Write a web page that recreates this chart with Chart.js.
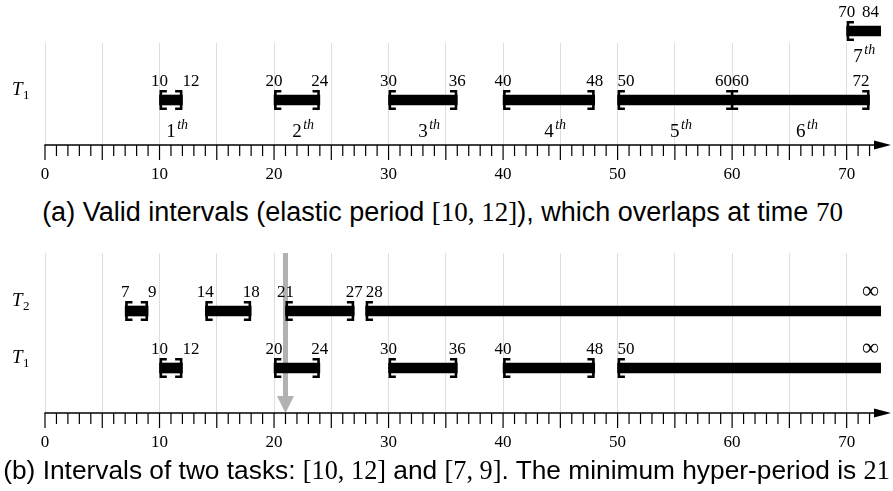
<!DOCTYPE html>
<html>
<head>
<meta charset="utf-8">
<script src="https://cdn.jsdelivr.net/npm/chart.js@4/dist/chart.umd.min.js"></script>
<style>
  html, body { margin: 0; padding: 0; background: #fff; }
  #page { position: relative; width: 893px; height: 491px; overflow: hidden; }
  .plot { position: absolute; left: 0; width: 893px; }
  #plotA { top: 0; height: 190px; }
  #plotB { top: 240px; height: 218px; }
  .cap { position: absolute; left: 0; width: 893px; text-align: center; white-space: nowrap;
         font-family: 'Liberation Sans', Arial, sans-serif; line-height: 30px; color: #000; }
  .cap .m { font-family: 'Liberation Serif', serif; }
</style>
</head>
<body>
<div id="page">
  <div class="plot" id="plotA"><canvas id="chartA"></canvas></div>
  <div class="cap" style="top:197px;left:-4px;font-size:27px">(a) Valid intervals (elastic period <span class="m">[10, 12]</span>), which overlaps at time <span class="m">70</span></div>
  <div class="plot" id="plotB"><canvas id="chartB"></canvas></div>
  <div class="cap" style="top:455px;font-size:26.3px">(b) Intervals of two tasks: <span class="m">[10, 12]</span> and <span class="m">[7, 9]</span>. The minimum hyper-period is <span class="m">21</span></div>
</div>
<script>
// Time axis
const X_MAX = 73;
const AXIS_LABEL_STEP = 10;

// (a) successive valid intervals of T1 with elastic period [10, 12]
const T1_ELASTIC = [[10, 12], [20, 24], [30, 36], [40, 48], [50, 60], [60, 72]];
const T1_ELASTIC_ORDINALS = ['1', '2', '3', '4', '5', '6'];
const T1_OVERLAP = [[70, 84]];
const T1_OVERLAP_ORDINALS = ['7'];

// (b) valid intervals of two tasks, open-ended after they merge
const T1_INTERVALS = [[10, 12], [20, 24], [30, 36], [40, 48], [50, Infinity]];
const T2_INTERVALS = [[7, 9], [14, 18], [21, 27], [28, Infinity]];
const HYPER_PERIOD = 21;

const SERIF = '"Liberation Serif", "DejaVu Serif", serif';

function fmt(v) { return isFinite(v) ? String(v) : '\u221E'; }

function drawBracket(ctx, px, yc, dir) {
  // dir = +1 draws "[", dir = -1 draws "]", dir = 0 draws a joint "I"
  const h = 10, sw = 2.6, serif = 6;
  ctx.lineWidth = sw;
  ctx.lineCap = 'butt';
  ctx.lineJoin = 'miter';
  const xs = px + dir * sw / 2;
  const yt = yc - h + sw / 2, yb = yc + h - sw / 2;
  ctx.beginPath();
  if (dir === 0) {
    ctx.moveTo(xs - serif, yt); ctx.lineTo(xs + serif, yt);
    ctx.moveTo(xs - serif, yb); ctx.lineTo(xs + serif, yb);
    ctx.moveTo(xs, yt); ctx.lineTo(xs, yb);
  } else {
    ctx.moveTo(xs + dir * serif, yt); ctx.lineTo(xs, yt);
    ctx.lineTo(xs, yb); ctx.lineTo(xs + dir * serif, yb);
  }
  ctx.stroke();
}

const intervalPlugin = {
  id: 'intervals',
  beforeDatasetsDraw(chart, args, opts) {
    if (opts.marker == null) return;
    const { ctx, chartArea } = chart;
    const px = chart.scales.x.getPixelForValue(opts.marker);
    const head = 17, hw = 8.5, tip = chartArea.bottom;
    ctx.save();
    ctx.fillStyle = '#b1b1b1';
    ctx.fillRect(px - 2.5, chartArea.top, 5, tip - head - chartArea.top);
    ctx.beginPath();
    ctx.moveTo(px - hw, tip - head);
    ctx.lineTo(px + hw, tip - head);
    ctx.lineTo(px, tip);
    ctx.closePath();
    ctx.fill();
    ctx.restore();
  },
  afterDatasetsDraw(chart, args, opts) {
    const { ctx, chartArea } = chart;
    const xs = chart.scales.x, ys = chart.scales.y;
    const xMax = xs.max;
    ctx.save();
    ctx.strokeStyle = '#000';
    ctx.fillStyle = '#000';

    opts.rows.forEach(row => {
      const yc = ys.getPixelForValue(row.pos);
      const iv = row.intervals;

      // row name, e.g. T1
      if (row.name) {
        ctx.font = 'italic 19px ' + SERIF;
        ctx.textAlign = 'left';
        ctx.textBaseline = 'alphabetic';
        ctx.fillText(row.name, 12, yc - 5);
        const w = ctx.measureText(row.name).width;
        ctx.font = '13px ' + SERIF;
        ctx.fillText(row.sub, 12 + w + 0.5, yc - 1);
      }

      iv.forEach(([a, b], i) => {
        const pa = xs.getPixelForValue(a);
        const prev = iv[i - 1], next = iv[i + 1];
        const joinedBefore = prev && prev[1] === a;
        const joinedAfter = next && next[0] === b;

        // brackets
        if (a <= xMax) drawBracket(ctx, pa, yc, joinedBefore ? 0 : 1);
        if (isFinite(b) && b <= xMax && !joinedAfter) drawBracket(ctx, xs.getPixelForValue(b), yc, -1);

        // endpoint values
        ctx.font = '17px ' + SERIF;
        ctx.textBaseline = 'alphabetic';
        const ly = yc - 14;
        ctx.textAlign = (prev && a - prev[1] <= 2) ? 'left' : 'center';
        ctx.fillText(fmt(a), pa, ly);
        if (b > xMax - 1.5) {
          ctx.textAlign = 'right';
          if (!isFinite(b)) ctx.font = '24px ' + SERIF;
          ctx.fillText(fmt(b), Math.min(xs.getPixelForValue(b), chartArea.right - 2), isFinite(b) ? ly : ly + 1);
        } else {
          ctx.textAlign = joinedAfter ? 'right' : (b - a <= 2 ? 'left' : 'center');
          ctx.fillText(fmt(b), xs.getPixelForValue(b), ly);
        }

        // ordinal of the interval, e.g. 1^th
        if (row.ordinals) {
          const mid = (a + Math.min(b, xMax - 1)) / 2;
          const pm = xs.getPixelForValue(mid);
          const oy = yc + row.ordinalDy;
          ctx.font = '19px ' + SERIF;
          ctx.textAlign = 'left';
          const n = row.ordinals[i];
          const nw = ctx.measureText(n).width;
          ctx.fillText(n, pm - nw / 2, oy);
          ctx.font = 'italic 14px ' + SERIF;
          ctx.fillText('th', pm + nw / 2 + 1.5, oy - 8);
        }
      });
    });

    // time axis with arrow head and tick marks
    const axisY = chartArea.bottom;
    const x0 = xs.getPixelForValue(0);
    ctx.lineWidth = 1.3;
    ctx.beginPath();
    ctx.moveTo(x0 - 0.6, axisY);
    ctx.lineTo(878, axisY);
    ctx.stroke();
    ctx.beginPath();
    ctx.moveTo(874, axisY - 4.5);
    ctx.lineTo(891, axisY);
    ctx.lineTo(874, axisY + 4.5);
    ctx.closePath();
    ctx.fill();
    ctx.lineWidth = 1.2;
    for (let v = 0; v <= xMax - 1; v++) {
      const px = xs.getPixelForValue(v);
      ctx.beginPath();
      ctx.moveTo(px, axisY);
      ctx.lineTo(px, axisY + (v % 5 === 0 ? 15 : 11));
      ctx.stroke();
    }
    ctx.restore();
  }
};

function makeChart(id, rows, yMax, padTop, axisH, marker) {
  const datasets = rows.map(r => ({
    data: r.intervals.map(([a, b]) => ({ x: [a, isFinite(b) ? b : X_MAX], y: r.pos })),
    backgroundColor: '#000',
    borderWidth: 0,
    barThickness: 10,
    grouped: false,
    clip: { left: false, top: false, right: 0, bottom: false }
  }));
  return new Chart(document.getElementById(id), {
    type: 'bar',
    data: { datasets },
    options: {
      indexAxis: 'y',
      responsive: true,
      maintainAspectRatio: false,
      animation: false,
      events: [],
      layout: { padding: { top: padTop, left: 45, right: 12, bottom: 0 } },
      plugins: {
        legend: { display: false },
        tooltip: { enabled: false },
        intervals: { rows, marker }
      },
      scales: {
        x: {
          type: 'linear', position: 'bottom', min: 0, max: X_MAX,
          afterFit: s => { s.height = axisH; },
          border: { display: false },
          grid: {
            drawTicks: true,
            tickLength: 16,
            tickColor: 'rgba(0,0,0,0)',
            lineWidth: 1,
            color: c => (c.tick && c.tick.value % 5 === 0) ? '#dedede' : 'rgba(0,0,0,0)'
          },
          ticks: {
            stepSize: 1, autoSkip: false, maxRotation: 0, padding: 3, color: '#000',
            font: { family: SERIF, size: 17 },
            callback: v => (v % AXIS_LABEL_STEP === 0 ? String(v) : '')
          }
        },
        y: { type: 'linear', display: false, offset: false, min: 0, max: yMax }
      }
    },
    plugins: [intervalPlugin]
  });
}

// one y unit is 15 px; rows sit at fixed heights above the axis
makeChart('chartA', [
  { name: 'T', sub: '1', pos: 3, intervals: T1_ELASTIC, ordinals: T1_ELASTIC_ORDINALS, ordinalDy: 37 },
  { name: null, pos: 7.6, intervals: T1_OVERLAP, ordinals: T1_OVERLAP_ORDINALS, ordinalDy: 31 }
], 6.8, 43, 45, null);

makeChart('chartB', [
  { name: 'T', sub: '2', pos: 6.8, intervals: T2_INTERVALS },
  { name: 'T', sub: '1', pos: 3, intervals: T1_INTERVALS }
], 32 / 3, 13, 45, HYPER_PERIOD);
</script>
</body>
</html>
